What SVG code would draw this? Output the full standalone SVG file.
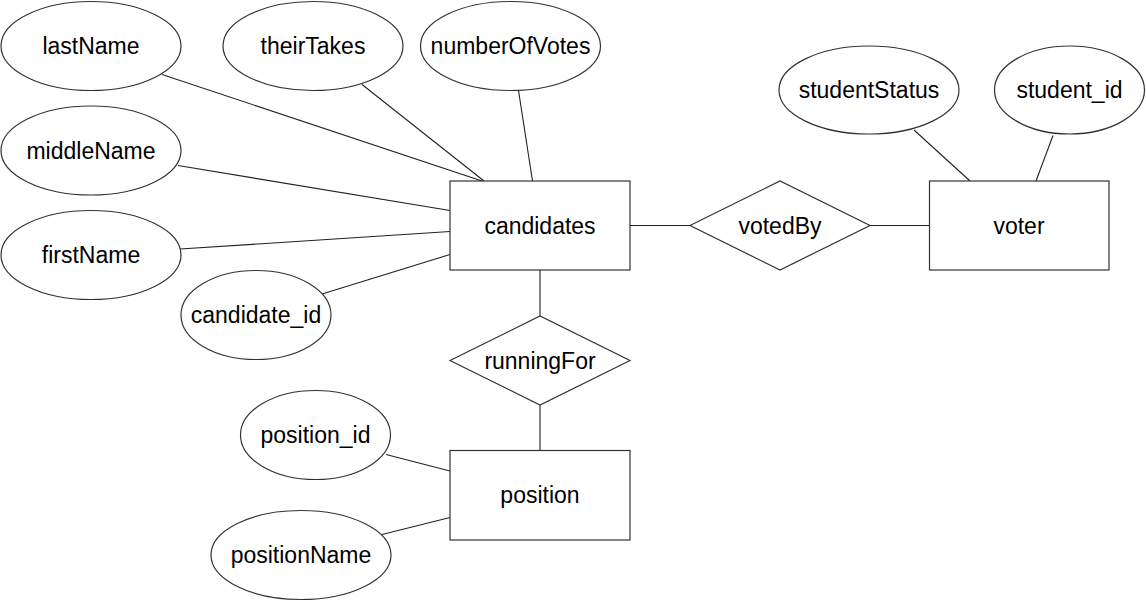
<svg xmlns="http://www.w3.org/2000/svg" width="1146" height="601" viewBox="0 0 1146 601">
<style>
.s{fill:#fff;stroke:#333;stroke-width:1.2}
.c line{stroke:#222;stroke-width:1.1}
text{font-family:"Liberation Sans",Arial,sans-serif;font-size:23px;fill:#000;text-anchor:middle}
</style>
<rect width="1146" height="601" fill="#fff"/>
<g class="c" id="connectors">
<line x1="162" y1="74.5" x2="482" y2="181"/>
<line x1="362" y1="84.5" x2="484" y2="181"/>
<line x1="518.5" y1="90.5" x2="532.5" y2="181"/>
<line x1="178" y1="165.5" x2="450" y2="210.5"/>
<line x1="180" y1="249" x2="450" y2="231.5"/>
<line x1="322" y1="294" x2="450" y2="254.5"/>
<line x1="630" y1="225.5" x2="690" y2="225.5"/>
<line x1="870" y1="225.5" x2="929.5" y2="225.5"/>
<line x1="914" y1="130" x2="970" y2="181"/>
<line x1="1053" y1="135.5" x2="1036" y2="181"/>
<line x1="540" y1="270" x2="540" y2="316"/>
<line x1="540" y1="405" x2="540" y2="450.5"/>
<line x1="386" y1="454.5" x2="450" y2="471"/>
<line x1="382" y1="534.5" x2="450" y2="517.5"/>
</g>
<g id="lastName"><ellipse class="s" cx="91" cy="46" rx="90" ry="44.5"/><text x="91" y="54">lastName</text></g>
<g id="theirTakes"><ellipse class="s" cx="313" cy="46" rx="90" ry="44.5"/><text x="313" y="54">theirTakes</text></g>
<g id="numberOfVotes"><ellipse class="s" cx="510.5" cy="46" rx="90" ry="44.5"/><text x="510.5" y="54">numberOfVotes</text></g>
<g id="middleName"><ellipse class="s" cx="91" cy="150.5" rx="90" ry="44.5"/><text x="91" y="158.5">middleName</text></g>
<g id="firstName"><ellipse class="s" cx="91" cy="255" rx="90" ry="44.5"/><text x="91" y="263">firstName</text></g>
<g id="candidate_id"><ellipse class="s" cx="256" cy="315" rx="75" ry="44.5"/><text x="256" y="323">candidate_id</text></g>
<g id="candidates"><rect class="s" x="450" y="181" width="180" height="89"/><text x="540" y="233.5">candidates</text></g>
<g id="votedBy"><polygon class="s" points="690,225.5 780,181 870,225.5 780,270"/><text x="780" y="233.5">votedBy</text></g>
<g id="voter"><rect class="s" x="929.5" y="181" width="179.5" height="89"/><text x="1019" y="233.5">voter</text></g>
<g id="studentStatus"><ellipse class="s" cx="869" cy="90" rx="90" ry="44"/><text x="869" y="98">studentStatus</text></g>
<g id="student_id"><ellipse class="s" cx="1069.5" cy="90" rx="75" ry="44"/><text x="1069.5" y="98">student_id</text></g>
<g id="runningFor"><polygon class="s" points="450,360.5 540,316 630,360.5 540,405"/><text x="540" y="368.5">runningFor</text></g>
<g id="position"><rect class="s" x="450" y="450.5" width="180" height="89.5"/><text x="540" y="503">position</text></g>
<g id="position_id"><ellipse class="s" cx="315.5" cy="435" rx="75" ry="44.5"/><text x="315.5" y="443">position_id</text></g>
<g id="positionName"><ellipse class="s" cx="301" cy="555" rx="90" ry="44.5"/><text x="301" y="563">positionName</text></g>
</svg>
